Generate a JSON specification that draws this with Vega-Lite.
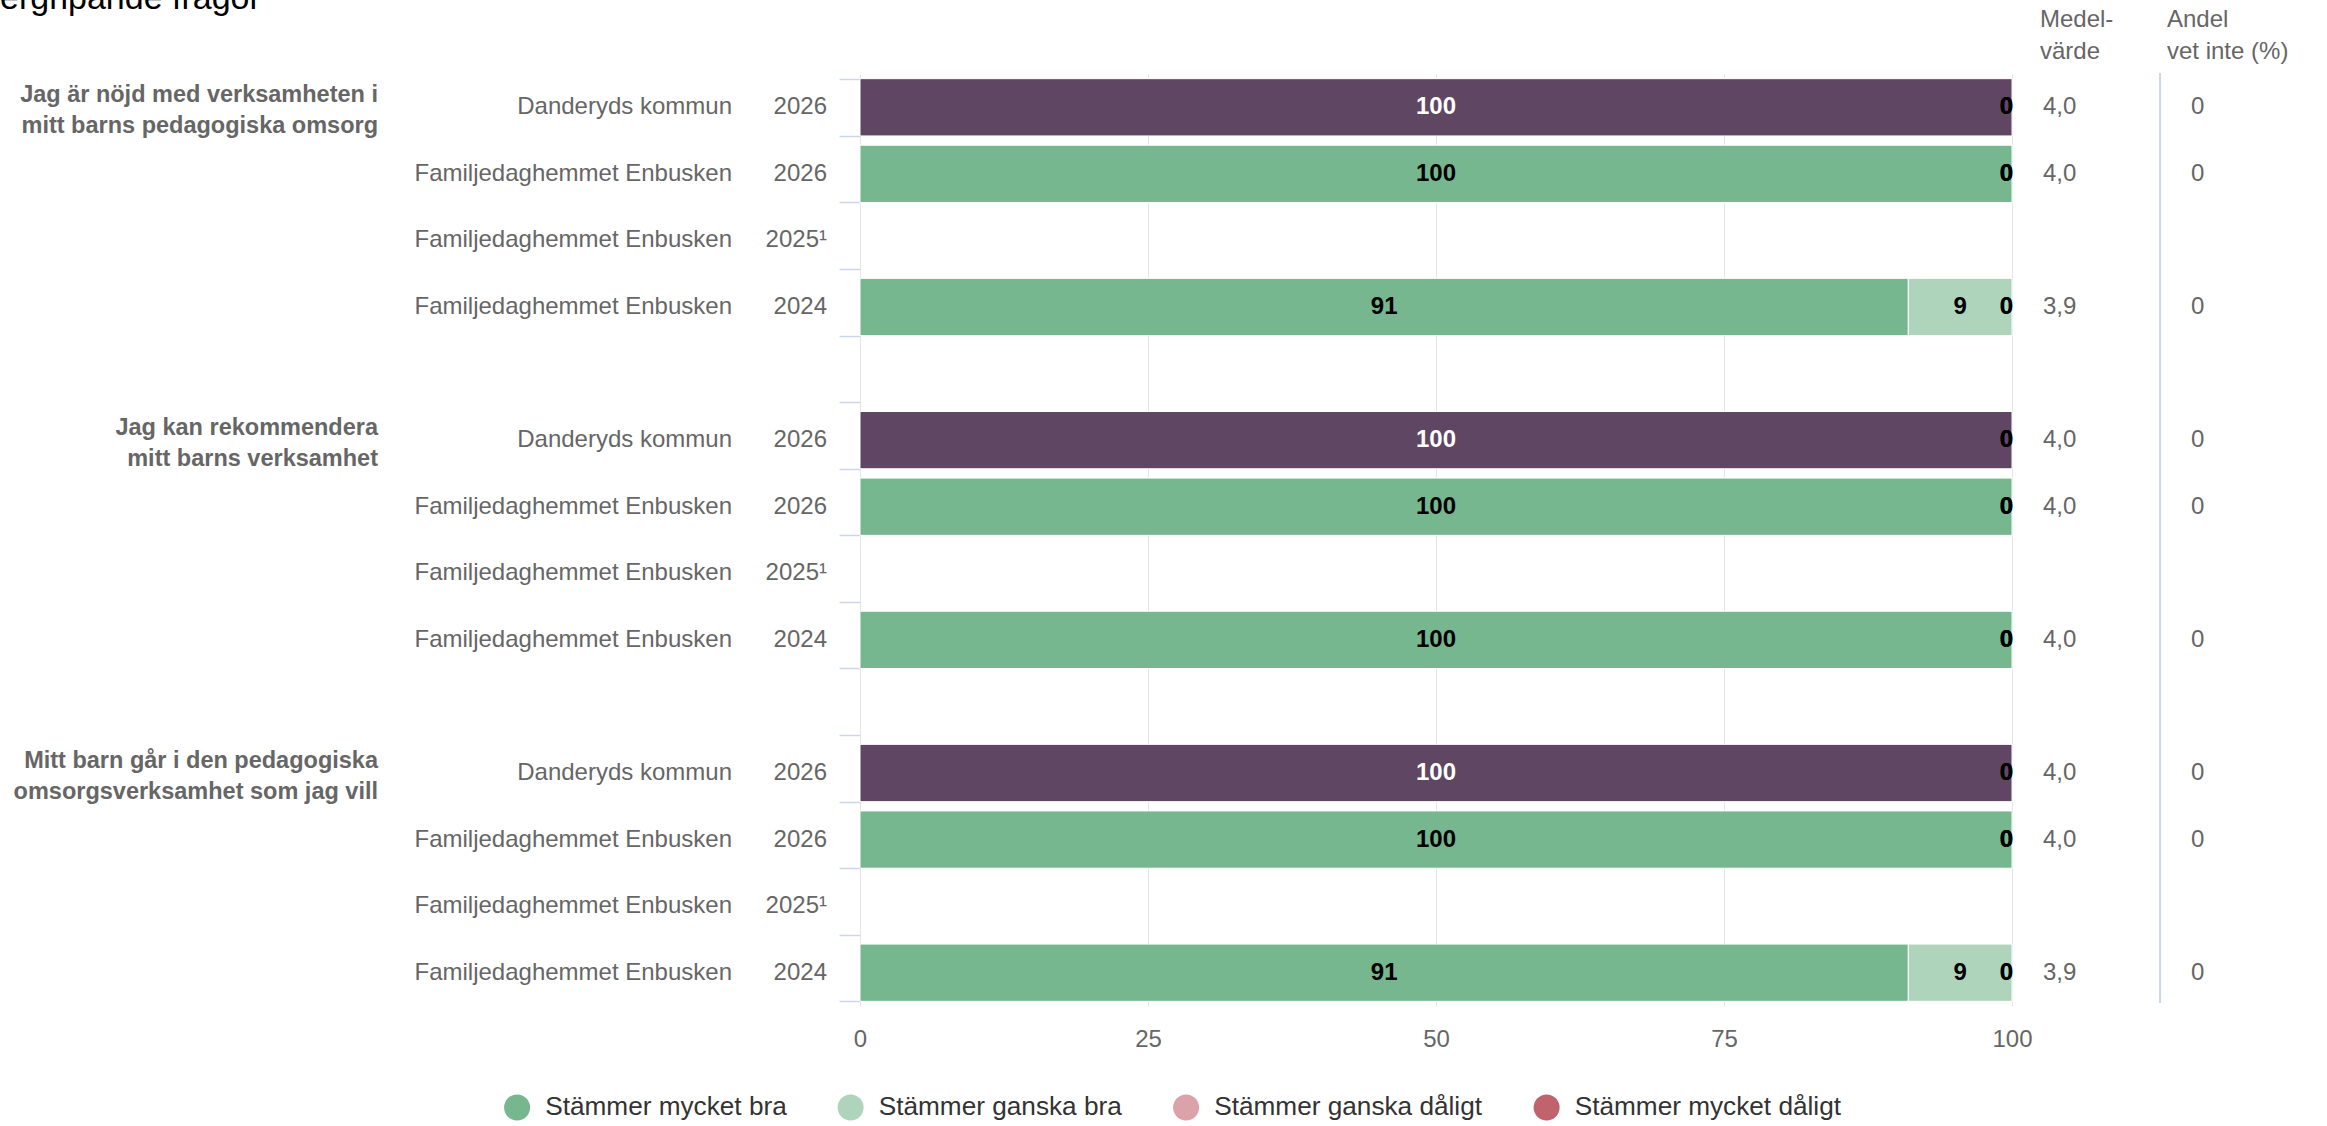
{
  "$schema": "https://vega.github.io/schema/vega-lite/v6.json",
  "autosize": {"type": "none"},
  "padding": {"left": 860, "top": 74, "right": 315, "bottom": 120},
  "width": 1152,
  "height": 932,
  "background": "white",
  "config": {
    "view": {"stroke": null},
    "font": "Liberation Sans",
    "locale": {"number": {"decimal": ",", "thousands": " ", "grouping": [3], "currency": ["", " kr"]}}
  },
  "datasets": {
    "segments": [
      {"row": "1a", "serie": "Danderyds kommun", "cat": "Stämmer mycket bra", "rank": 1, "value": 100},
      {"row": "1a", "serie": "Danderyds kommun", "cat": "Stämmer ganska bra", "rank": 2, "value": 0},
      {"row": "1a", "serie": "Danderyds kommun", "cat": "Stämmer ganska dåligt", "rank": 3, "value": 0},
      {"row": "1a", "serie": "Danderyds kommun", "cat": "Stämmer mycket dåligt", "rank": 4, "value": 0},
      {"row": "1b", "serie": "Stämmer mycket bra", "cat": "Stämmer mycket bra", "rank": 1, "value": 100},
      {"row": "1b", "serie": "Stämmer ganska bra", "cat": "Stämmer ganska bra", "rank": 2, "value": 0},
      {"row": "1b", "serie": "Stämmer ganska dåligt", "cat": "Stämmer ganska dåligt", "rank": 3, "value": 0},
      {"row": "1b", "serie": "Stämmer mycket dåligt", "cat": "Stämmer mycket dåligt", "rank": 4, "value": 0},
      {"row": "1d", "serie": "Stämmer mycket bra", "cat": "Stämmer mycket bra", "rank": 1, "value": 91},
      {"row": "1d", "serie": "Stämmer ganska bra", "cat": "Stämmer ganska bra", "rank": 2, "value": 9},
      {"row": "1d", "serie": "Stämmer ganska dåligt", "cat": "Stämmer ganska dåligt", "rank": 3, "value": 0},
      {"row": "1d", "serie": "Stämmer mycket dåligt", "cat": "Stämmer mycket dåligt", "rank": 4, "value": 0},
      {"row": "2a", "serie": "Danderyds kommun", "cat": "Stämmer mycket bra", "rank": 1, "value": 100},
      {"row": "2a", "serie": "Danderyds kommun", "cat": "Stämmer ganska bra", "rank": 2, "value": 0},
      {"row": "2a", "serie": "Danderyds kommun", "cat": "Stämmer ganska dåligt", "rank": 3, "value": 0},
      {"row": "2a", "serie": "Danderyds kommun", "cat": "Stämmer mycket dåligt", "rank": 4, "value": 0},
      {"row": "2b", "serie": "Stämmer mycket bra", "cat": "Stämmer mycket bra", "rank": 1, "value": 100},
      {"row": "2b", "serie": "Stämmer ganska bra", "cat": "Stämmer ganska bra", "rank": 2, "value": 0},
      {"row": "2b", "serie": "Stämmer ganska dåligt", "cat": "Stämmer ganska dåligt", "rank": 3, "value": 0},
      {"row": "2b", "serie": "Stämmer mycket dåligt", "cat": "Stämmer mycket dåligt", "rank": 4, "value": 0},
      {"row": "2d", "serie": "Stämmer mycket bra", "cat": "Stämmer mycket bra", "rank": 1, "value": 100},
      {"row": "2d", "serie": "Stämmer ganska bra", "cat": "Stämmer ganska bra", "rank": 2, "value": 0},
      {"row": "2d", "serie": "Stämmer ganska dåligt", "cat": "Stämmer ganska dåligt", "rank": 3, "value": 0},
      {"row": "2d", "serie": "Stämmer mycket dåligt", "cat": "Stämmer mycket dåligt", "rank": 4, "value": 0},
      {"row": "3a", "serie": "Danderyds kommun", "cat": "Stämmer mycket bra", "rank": 1, "value": 100},
      {"row": "3a", "serie": "Danderyds kommun", "cat": "Stämmer ganska bra", "rank": 2, "value": 0},
      {"row": "3a", "serie": "Danderyds kommun", "cat": "Stämmer ganska dåligt", "rank": 3, "value": 0},
      {"row": "3a", "serie": "Danderyds kommun", "cat": "Stämmer mycket dåligt", "rank": 4, "value": 0},
      {"row": "3b", "serie": "Stämmer mycket bra", "cat": "Stämmer mycket bra", "rank": 1, "value": 100},
      {"row": "3b", "serie": "Stämmer ganska bra", "cat": "Stämmer ganska bra", "rank": 2, "value": 0},
      {"row": "3b", "serie": "Stämmer ganska dåligt", "cat": "Stämmer ganska dåligt", "rank": 3, "value": 0},
      {"row": "3b", "serie": "Stämmer mycket dåligt", "cat": "Stämmer mycket dåligt", "rank": 4, "value": 0},
      {"row": "3d", "serie": "Stämmer mycket bra", "cat": "Stämmer mycket bra", "rank": 1, "value": 91},
      {"row": "3d", "serie": "Stämmer ganska bra", "cat": "Stämmer ganska bra", "rank": 2, "value": 9},
      {"row": "3d", "serie": "Stämmer ganska dåligt", "cat": "Stämmer ganska dåligt", "rank": 3, "value": 0},
      {"row": "3d", "serie": "Stämmer mycket dåligt", "cat": "Stämmer mycket dåligt", "rank": 4, "value": 0}
    ],
    "rows": [
      {"row": "1a", "group": "Jag är nöjd med verksamheten i\nmitt barns pedagogiska omsorg", "name": "Danderyds kommun", "year": "2026", "mean": 4.0, "dontknow": 0},
      {"row": "1b", "group": null, "name": "Familjedaghemmet Enbusken", "year": "2026", "mean": 4.0, "dontknow": 0},
      {"row": "1c", "group": null, "name": "Familjedaghemmet Enbusken", "year": "2025¹", "mean": null, "dontknow": null},
      {"row": "1d", "group": null, "name": "Familjedaghemmet Enbusken", "year": "2024", "mean": 3.9, "dontknow": 0},
      {"row": "2a", "group": "Jag kan rekommendera\nmitt barns verksamhet", "name": "Danderyds kommun", "year": "2026", "mean": 4.0, "dontknow": 0},
      {"row": "2b", "group": null, "name": "Familjedaghemmet Enbusken", "year": "2026", "mean": 4.0, "dontknow": 0},
      {"row": "2c", "group": null, "name": "Familjedaghemmet Enbusken", "year": "2025¹", "mean": null, "dontknow": null},
      {"row": "2d", "group": null, "name": "Familjedaghemmet Enbusken", "year": "2024", "mean": 4.0, "dontknow": 0},
      {"row": "3a", "group": "Mitt barn går i den pedagogiska\nomsorgsverksamhet som jag vill", "name": "Danderyds kommun", "year": "2026", "mean": 4.0, "dontknow": 0},
      {"row": "3b", "group": null, "name": "Familjedaghemmet Enbusken", "year": "2026", "mean": 4.0, "dontknow": 0},
      {"row": "3c", "group": null, "name": "Familjedaghemmet Enbusken", "year": "2025¹", "mean": null, "dontknow": null},
      {"row": "3d", "group": null, "name": "Familjedaghemmet Enbusken", "year": "2024", "mean": 3.9, "dontknow": 0}
    ],
    "headers": [
      {"column": "mean", "label": "Medel-\nvärde"},
      {"column": "dontknow", "label": "Andel\nvet inte (%)"}
    ],
    "title": [
      {"label": "ergripande frågor"}
    ]
  },
  "encoding": {
    "y": {
      "field": "row",
      "type": "nominal",
      "scale": {
        "domain": ["1a", "1b", "1c", "1d", "gap1", "2a", "2b", "2c", "2d", "gap2", "3a", "3b", "3c", "3d"],
        "paddingInner": 0.14,
        "paddingOuter": 0.07
      },
      "axis": {
        "title": null,
        "labels": false,
        "domain": false,
        "grid": false,
        "ticks": true,
        "tickBand": "extent",
        "tickColor": "#ccd6eb",
        "tickSize": 21,
        "tickWidth": 1.5
      }
    }
  },
  "layer": [
    {
      "data": {"name": "segments"},
      "transform": [
        {"stack": "value", "groupby": ["row"], "sort": [{"field": "rank", "order": "ascending"}], "as": ["x0", "x1"]},
        {"filter": "datum.value > 0"}
      ],
      "mark": {"type": "bar", "stroke": "white", "strokeWidth": 1},
      "encoding": {
        "x": {
          "field": "x0",
          "type": "quantitative",
          "scale": {"domain": [0, 100], "nice": false},
          "axis": {
            "values": [0, 25, 50, 75, 100],
            "title": null,
            "domain": false,
            "ticks": false,
            "grid": true,
            "gridColor": "#e6e6e6",
            "gridWidth": 1,
            "labelFontSize": 24,
            "labelColor": "#666666",
            "labelPadding": 21,
            "labelFlush": false
          }
        },
        "x2": {"field": "x1"},
        "color": {
          "field": "serie",
          "type": "nominal",
          "scale": {
            "domain": ["Stämmer mycket bra", "Stämmer ganska bra", "Stämmer ganska dåligt", "Stämmer mycket dåligt", "Danderyds kommun"],
            "range": ["#76b78f", "#aed5bc", "#dba2a9", "#c1636c", "#5f4663"]
          },
          "legend": {
            "orient": "none",
            "legendX": -356,
            "legendY": 1020,
            "direction": "horizontal",
            "title": null,
            "values": ["Stämmer mycket bra", "Stämmer ganska bra", "Stämmer ganska dåligt", "Stämmer mycket dåligt"],
            "symbolType": "circle",
            "symbolSize": 676,
            "symbolStrokeWidth": 0,
            "symbolOpacity": 1,
            "labelFontSize": 26.2,
            "labelColor": "#333333",
            "labelOffset": 15,
            "labelLimit": 600,
            "columnPadding": 50.5,
            "padding": 0
          }
        }
      }
    },
    {
      "data": {"name": "segments"},
      "transform": [
        {"stack": "value", "groupby": ["row"], "sort": [{"field": "rank", "order": "ascending"}], "as": ["x0", "x1"]},
        {"filter": "datum.value > 0"},
        {"calculate": "(datum.x0 + datum.x1) / 2", "as": "mid"}
      ],
      "mark": {"type": "text", "fontSize": 24, "fontWeight": "bold", "align": "center", "baseline": "middle"},
      "encoding": {
        "x": {"field": "mid", "type": "quantitative"},
        "text": {"field": "value", "type": "quantitative", "format": "d"},
        "color": {
          "condition": {"test": "datum.serie == 'Danderyds kommun'", "value": "#ffffff"},
          "value": "#000000"
        }
      }
    },
    {
      "data": {"name": "segments"},
      "transform": [
        {"stack": "value", "groupby": ["row"], "sort": [{"field": "rank", "order": "ascending"}], "as": ["x0", "x1"]},
        {"filter": "datum.value == 0"}
      ],
      "mark": {"type": "text", "fontSize": 24, "fontWeight": "bold", "align": "right", "baseline": "middle", "dx": 1, "color": "#000000"},
      "encoding": {
        "x": {"field": "x1", "type": "quantitative"},
        "text": {"field": "value", "type": "quantitative", "format": "d"}
      }
    },
    {
      "data": {"name": "rows"},
      "mark": {"type": "text", "fontSize": 24, "align": "right", "baseline": "middle", "dx": -128, "color": "#666666"},
      "encoding": {
        "x": {"datum": 0},
        "text": {"field": "name"}
      }
    },
    {
      "data": {"name": "rows"},
      "mark": {"type": "text", "fontSize": 24, "align": "right", "baseline": "middle", "dx": -33, "color": "#666666"},
      "encoding": {
        "x": {"datum": 0},
        "text": {"field": "year"}
      }
    },
    {
      "data": {"name": "rows"},
      "transform": [{"filter": "datum.group != null"}],
      "mark": {"type": "text", "fontSize": 23.5, "fontWeight": "bold", "align": "right", "baseline": "middle", "dx": -482, "dy": -12.5, "lineBreak": "\n", "lineHeight": 31, "color": "#666666"},
      "encoding": {
        "x": {"datum": 0},
        "text": {"field": "group"}
      }
    },
    {
      "data": {"name": "rows"},
      "transform": [{"filter": "datum.mean != null"}],
      "mark": {"type": "text", "fontSize": 24, "align": "left", "baseline": "middle", "dx": 31, "color": "#666666"},
      "encoding": {
        "x": {"datum": 100},
        "text": {"field": "mean", "type": "quantitative", "format": ".1f"}
      }
    },
    {
      "data": {"name": "rows"},
      "transform": [{"filter": "datum.dontknow != null"}],
      "mark": {"type": "text", "fontSize": 24, "align": "left", "baseline": "middle", "dx": 179, "color": "#666666"},
      "encoding": {
        "x": {"datum": 100},
        "text": {"field": "dontknow", "type": "quantitative", "format": "d"}
      }
    },
    {
      "data": {"name": "headers"},
      "transform": [{"filter": "datum.column == 'mean'"}],
      "mark": {"type": "text", "fontSize": 24, "align": "left", "baseline": "middle", "dx": 28, "dy": -87, "lineBreak": "\n", "lineHeight": 32, "color": "#666666"},
      "encoding": {
        "x": {"datum": 100},
        "y": {"datum": "1a"},
        "text": {"field": "label"}
      }
    },
    {
      "data": {"name": "headers"},
      "transform": [{"filter": "datum.column == 'dontknow'"}],
      "mark": {"type": "text", "fontSize": 24, "align": "left", "baseline": "middle", "dx": 155, "dy": -87, "lineBreak": "\n", "lineHeight": 32, "color": "#666666"},
      "encoding": {
        "x": {"datum": 100},
        "y": {"datum": "1a"},
        "text": {"field": "label"}
      }
    },
    {
      "data": {"name": "title"},
      "mark": {"type": "text", "fontSize": 34, "align": "left", "baseline": "alphabetic", "dx": -860, "dy": -98, "color": "#000000"},
      "encoding": {
        "x": {"datum": 0},
        "y": {"datum": "1a"},
        "text": {"field": "label"}
      }
    },
    {
      "data": {"name": "headers"},
      "transform": [{"filter": "datum.column == 'dontknow'"}],
      "mark": {"type": "rule", "color": "#ccd6eb", "strokeWidth": 2},
      "encoding": {
        "x": {"datum": 112.85},
        "y": {"datum": "1a", "bandPosition": -0.1},
        "y2": {"datum": "3d", "bandPosition": 1.03}
      }
    }
  ]
}
